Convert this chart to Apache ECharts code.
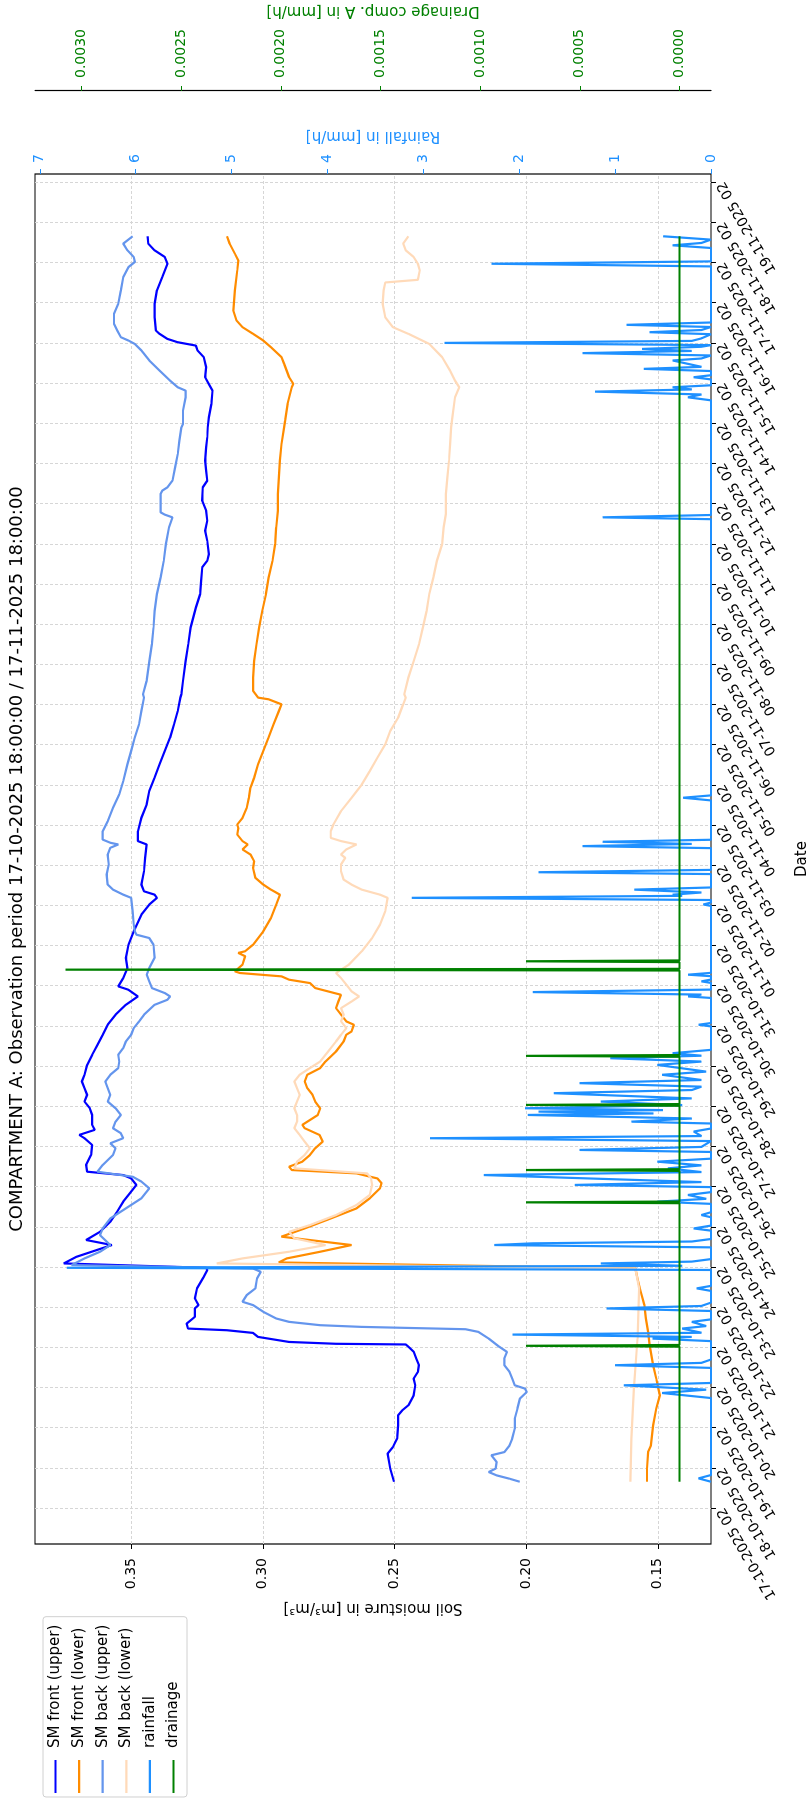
<!DOCTYPE html>
<html>
<head>
<meta charset="utf-8">
<title>Compartment A</title>
<script src="https://cdn.jsdelivr.net/npm/echarts@6.0.0/dist/echarts.min.js"></script>
<style>
  html, body { margin: 0; padding: 0; background: #fff; overflow: hidden; width: 811px; height: 1800px; }
  /* the figure is laid out landscape and turned a quarter turn counter-clockwise */
  #chart { position: absolute; left: 0; top: 0; width: 1800px; height: 811px;
           transform-origin: 0 0; transform: translateY(1800px) rotate(-90deg); }
</style>
</head>
<body>
<div id="chart"></div>
<script>
const TITLE = 'COMPARTMENT A: Observation period 17-10-2025 18:00:00 / 17-11-2025 18:00:00';

// Series times are hours since the start of the period (17-10-2025 18:00).
// The date axis counts hours since 17-10-2025 02:00, so it is 16 h ahead.
const AXIS_OFFSET_H = 16;

const dateTickLabels = [
  '17-10-2025 02', '18-10-2025 02', '19-10-2025 02', '20-10-2025 02', '21-10-2025 02',
  '22-10-2025 02', '23-10-2025 02', '24-10-2025 02', '25-10-2025 02', '26-10-2025 02',
  '27-10-2025 02', '28-10-2025 02', '29-10-2025 02', '30-10-2025 02', '31-10-2025 02',
  '01-11-2025 02', '02-11-2025 02', '03-11-2025 02', '04-11-2025 02', '05-11-2025 02',
  '06-11-2025 02', '07-11-2025 02', '08-11-2025 02', '09-11-2025 02', '10-11-2025 02',
  '11-11-2025 02', '12-11-2025 02', '13-11-2025 02', '14-11-2025 02', '15-11-2025 02',
  '16-11-2025 02', '17-11-2025 02', '18-11-2025 02', '19-11-2025 02'
];
const soilTicks = [0.15, 0.20, 0.25, 0.30, 0.35];
const rainTicks = [0, 1, 2, 3, 4, 5, 6, 7];
const drainTicks = [0, 0.0005, 0.0010, 0.0015, 0.0020, 0.0025, 0.0030];

// soil moisture [m3/m3]
const smFrontUpper = [[0,0.2502],[7.8,0.2516],[16.8,0.2526],[20.7,0.2506],[25.7,0.2490],[33.7,0.2486],[39.7,0.2486],[42.7,0.2470],[45.7,0.2447],[51.6,0.2427],[57.6,0.2421],[61.6,0.2427],[65.6,0.2411],[69.6,0.2407],[73.6,0.2417],[77.6,0.2427],[80.6,0.2447],[82.0,0.2457],[82.4,0.2722],[83.5,0.2900],[86.5,0.3018],[88.9,0.3037],[90.5,0.3136],[91.5,0.3284],[94.5,0.3289],[98.5,0.3258],[103.5,0.3258],[105.5,0.3244],[109.5,0.3258],[115.5,0.3250],[122.4,0.3224],[126.4,0.3211],[127.8,0.3215],[130.4,0.3756],[134.4,0.3707],[141.4,0.3573],[144.4,0.3671],[149.3,0.3618],[155.3,0.3579],[161.3,0.3553],[167.3,0.3530],[173.3,0.3500],[177.3,0.3480],[181.2,0.3500],[183.2,0.3530],[185.2,0.3667],[189.2,0.3671],[195.2,0.3652],[201.2,0.3648],[205.2,0.3677],[207.2,0.3697],[210.2,0.3638],[213.2,0.3648],[219.1,0.3648],[223.1,0.3657],[227.1,0.3677],[231.1,0.3667],[235.1,0.3677],[239.1,0.3687],[243.1,0.3677],[249.0,0.3667],[255.0,0.3648],[261.0,0.3628],[267.0,0.3608],[273.0,0.3589],[279.0,0.3559],[284.9,0.3520],[289.9,0.3474],[293.9,0.3510],[295.9,0.3549],[300.9,0.3530],[306.9,0.3514],[312.9,0.3520],[320.8,0.3510],[328.8,0.3490],[338.8,0.3461],[344.8,0.3431],[348.8,0.3402],[350.7,0.3411],[352.7,0.3451],[356.7,0.3461],[364.7,0.3451],[372.7,0.3447],[380.7,0.3441],[382.7,0.3474],[388.6,0.3474],[396.6,0.3461],[404.6,0.3441],[412.6,0.3431],[420.5,0.3411],[428.5,0.3392],[436.5,0.3372],[444.5,0.3352],[452.4,0.3337],[460.4,0.3323],[468.4,0.3313],[470.4,0.3309],[478.4,0.3303],[490.3,0.3293],[500.3,0.3283],[510.3,0.3274],[522.2,0.3254],[530.2,0.3238],[538.2,0.3234],[546.2,0.3230],[550.1,0.3211],[554.1,0.3205],[562.1,0.3211],[568.1,0.3219],[574.1,0.3211],[580.0,0.3215],[586.0,0.3230],[594.0,0.3228],[598.0,0.3211],[604.0,0.3215],[610.0,0.3219],[617.9,0.3215],[623.9,0.3211],[629.9,0.3209],[635.9,0.3205],[643.8,0.3195],[651.8,0.3191],[655.8,0.3205],[659.8,0.3219],[665.8,0.3215],[671.8,0.3224],[675.8,0.3248],[678.7,0.3254],[680.7,0.3323],[682.7,0.3362],[685.7,0.3392],[687.7,0.3406],[695.7,0.3411],[703.7,0.3411],[711.7,0.3402],[719.6,0.3382],[727.6,0.3362],[731.6,0.3372],[735.6,0.3411],[739.6,0.3435],[744,0.3437]];

const smFrontLower = [[0,0.1541],[7.8,0.1541],[17.7,0.1537],[21.7,0.1526],[33.7,0.1518],[43.7,0.1506],[51.6,0.1492],[55.6,0.1498],[61.6,0.1506],[69.6,0.1518],[81.6,0.1531],[89.5,0.1537],[97.5,0.1545],[105.5,0.1551],[113.5,0.1565],[121.4,0.1577],[127.4,0.1585],[131.0,0.2939],[133.4,0.2909],[137.4,0.2782],[141.4,0.2663],[146.4,0.2929],[151.3,0.2841],[157.3,0.2742],[163.3,0.2644],[169.3,0.2594],[175.3,0.2555],[178.3,0.2549],[181.2,0.2565],[184.2,0.2644],[186.2,0.2890],[188.2,0.2900],[191.2,0.2850],[195.2,0.2821],[199.2,0.2801],[203.2,0.2772],[207.2,0.2785],[211.2,0.2841],[213.2,0.2850],[219.1,0.2791],[223.1,0.2782],[227.1,0.2801],[231.1,0.2811],[235.1,0.2831],[239.1,0.2841],[243.1,0.2831],[247.1,0.2782],[251.0,0.2762],[257.0,0.2722],[263.0,0.2693],[267.0,0.2683],[269.0,0.2663],[273.0,0.2654],[275.0,0.2683],[279.0,0.2703],[282.9,0.2722],[286.9,0.2713],[290.9,0.2703],[294.9,0.2801],[297.9,0.2821],[299.9,0.2900],[301.9,0.2929],[303.9,0.3087],[304.9,0.3106],[308.9,0.3077],[313.9,0.3067],[315.9,0.3093],[316.9,0.3067],[320.8,0.3037],[328.8,0.2998],[336.8,0.2969],[344.8,0.2949],[350.7,0.2935],[353.7,0.2969],[356.7,0.2998],[360.7,0.3028],[366.7,0.3037],[370.7,0.3033],[374.7,0.3047],[377.7,0.3077],[380.7,0.3057],[382.7,0.3077],[386.6,0.3097],[390.6,0.3093],[392.6,0.3097],[396.6,0.3077],[402.6,0.3061],[408.6,0.3053],[414.6,0.3047],[420.5,0.3033],[428.5,0.3018],[436.5,0.2998],[444.5,0.2978],[452.4,0.2959],[460.4,0.2939],[464.4,0.2929],[467.4,0.2978],[468.4,0.3018],[472.4,0.3037],[480.4,0.3037],[490.3,0.3033],[500.3,0.3024],[510.3,0.3014],[520.2,0.3002],[530.2,0.2988],[540.2,0.2978],[550.1,0.2963],[560.1,0.2953],[570.1,0.2949],[580.0,0.2943],[590.0,0.2943],[600.0,0.2939],[610.0,0.2935],[619.9,0.2929],[629.9,0.2919],[633.9,0.2915],[643.8,0.2906],[653.8,0.2890],[655.8,0.2884],[659.8,0.2900],[667.8,0.2919],[671.8,0.2929],[677.7,0.2969],[681.7,0.2998],[685.7,0.3037],[689.7,0.3077],[693.7,0.3100],[699.7,0.3112],[711.7,0.3106],[723.6,0.3097],[729.6,0.3093],[733.6,0.3106],[739.6,0.3126],[744,0.3136]];

const smBackUpper = [[0,0.2024],[1.8,0.2063],[3.8,0.2112],[5.8,0.2142],[7.8,0.2116],[11.8,0.2112],[15.8,0.2132],[17.7,0.2083],[21.7,0.2063],[25.7,0.2053],[31.7,0.2043],[37.7,0.2043],[43.7,0.2033],[49.6,0.2024],[53.6,0.1998],[55.6,0.2004],[57.6,0.2043],[61.6,0.2053],[65.6,0.2063],[69.6,0.2083],[73.6,0.2083],[77.6,0.2073],[80.6,0.2102],[85.5,0.2142],[89.5,0.2181],[91.1,0.2230],[92.5,0.2624],[93.5,0.2781],[95.5,0.2900],[97.5,0.2949],[101.5,0.2998],[105.5,0.3037],[107.5,0.3077],[111.5,0.3061],[115.5,0.3028],[121.4,0.3022],[125.4,0.3008],[127.4,0.3037],[129.4,0.3726],[133.4,0.3677],[137.4,0.3618],[141.4,0.3579],[147.3,0.3618],[151.3,0.3608],[157.3,0.3579],[163.3,0.3520],[169.3,0.3461],[175.3,0.3431],[179.3,0.3461],[182.2,0.3494],[185.2,0.3628],[189.2,0.3608],[195.2,0.3569],[199.2,0.3559],[202.2,0.3579],[205.2,0.3530],[208.2,0.3539],[211.2,0.3569],[215.1,0.3559],[219.1,0.3539],[223.1,0.3559],[227.1,0.3589],[231.1,0.3579],[235.1,0.3589],[239.1,0.3598],[243.1,0.3579],[247.1,0.3549],[251.0,0.3545],[255.0,0.3549],[259.0,0.3530],[263.0,0.3520],[267.0,0.3500],[271.0,0.3490],[275.0,0.3470],[279.0,0.3451],[284.9,0.3411],[287.9,0.3362],[289.9,0.3352],[291.9,0.3372],[294.9,0.3421],[298.9,0.3431],[302.9,0.3441],[306.9,0.3431],[312.9,0.3411],[320.8,0.3415],[324.8,0.3431],[326.8,0.3480],[328.8,0.3486],[332.8,0.3490],[340.8,0.3494],[348.8,0.3500],[350.7,0.3530],[353.7,0.3569],[356.7,0.3589],[362.7,0.3593],[368.7,0.3585],[374.7,0.3589],[378.7,0.3579],[380.7,0.3549],[381.7,0.3579],[383.6,0.3608],[388.6,0.3608],[394.6,0.3589],[402.6,0.3569],[410.6,0.3545],[418.5,0.3530],[428.5,0.3514],[436.5,0.3500],[444.5,0.3486],[452.4,0.3470],[460.4,0.3461],[468.4,0.3451],[470.4,0.3455],[478.4,0.3441],[490.3,0.3431],[500.3,0.3421],[510.3,0.3415],[520.2,0.3411],[530.2,0.3402],[540.2,0.3388],[550.1,0.3376],[560.1,0.3368],[570.1,0.3356],[576.1,0.3343],[577.7,0.3372],[579.1,0.3388],[590.0,0.3388],[592.0,0.3382],[594.0,0.3362],[598.0,0.3343],[606.0,0.3333],[613.9,0.3323],[621.9,0.3317],[629.9,0.3309],[631.9,0.3303],[639.9,0.3303],[647.8,0.3293],[651.8,0.3293],[653.8,0.3323],[657.8,0.3352],[663.8,0.3392],[669.8,0.3431],[675.8,0.3461],[679.7,0.3486],[681.7,0.3510],[683.7,0.3539],[687.7,0.3553],[691.7,0.3565],[697.7,0.3565],[703.7,0.3549],[711.7,0.3539],[719.6,0.3530],[725.6,0.3510],[728.6,0.3486],[731.6,0.3490],[735.6,0.3514],[739.6,0.3530],[744,0.3494]];

const smBackLower = [[0,0.1604],[25.7,0.1600],[55.6,0.1591],[85.5,0.1577],[115.5,0.1571],[127.4,0.1585],[130.4,0.3175],[133.4,0.3077],[137.4,0.2900],[141.4,0.2762],[145.4,0.2880],[149.3,0.2900],[153.3,0.2821],[159.3,0.2722],[165.3,0.2644],[171.3,0.2594],[177.3,0.2585],[181.2,0.2589],[184.2,0.2604],[187.2,0.2880],[191.2,0.2870],[195.2,0.2841],[199.2,0.2821],[203.2,0.2841],[207.2,0.2860],[211.2,0.2880],[215.1,0.2870],[219.1,0.2870],[223.1,0.2880],[227.1,0.2870],[231.1,0.2860],[235.1,0.2870],[239.1,0.2880],[243.1,0.2860],[247.1,0.2821],[251.0,0.2782],[257.0,0.2752],[263.0,0.2722],[267.0,0.2703],[271.0,0.2683],[275.0,0.2703],[279.0,0.2693],[282.9,0.2703],[286.9,0.2663],[289.9,0.2634],[292.9,0.2663],[296.9,0.2683],[300.9,0.2703],[303.9,0.2722],[308.9,0.2673],[316.9,0.2624],[324.8,0.2585],[332.8,0.2555],[340.8,0.2535],[348.8,0.2526],[350.7,0.2555],[353.7,0.2624],[356.7,0.2663],[359.7,0.2693],[364.7,0.2703],[368.7,0.2703],[372.7,0.2687],[374.7,0.2703],[377.7,0.2683],[380.7,0.2644],[382.7,0.2703],[384.6,0.2742],[388.6,0.2742],[392.6,0.2732],[400.6,0.2703],[408.6,0.2663],[416.5,0.2624],[424.5,0.2594],[432.5,0.2565],[440.5,0.2535],[448.5,0.2516],[456.4,0.2486],[464.4,0.2467],[468.4,0.2457],[470.4,0.2463],[480.4,0.2447],[490.3,0.2427],[500.3,0.2407],[510.3,0.2392],[520.2,0.2378],[530.2,0.2368],[540.2,0.2352],[550.1,0.2339],[560.1,0.2319],[570.1,0.2313],[578.1,0.2305],[590.0,0.2305],[600.0,0.2299],[610.0,0.2293],[619.9,0.2289],[629.9,0.2285],[635.9,0.2280],[647.8,0.2270],[653.8,0.2254],[657.8,0.2270],[663.8,0.2289],[671.8,0.2319],[679.7,0.2368],[685.7,0.2447],[689.7,0.2506],[695.7,0.2535],[703.7,0.2545],[711.7,0.2541],[716.4,0.2535],[718.0,0.2411],[723.6,0.2404],[727.6,0.2411],[731.6,0.2427],[735.6,0.2457],[739.6,0.2467],[744,0.2447]];

// rainfall [mm/h]
const rainfall = [[0,0],[2,0.13],[4,0],[50,0],[53,0.51],[55,0.05],[57.6,0.91],[59,0],[68,0],[69.6,1.0],[71,0.1],[73,0],[84,0],[85.5,0.61],[86.5,0.2],[87.9,2.07],[89,0.1],[91.5,0.3],[93,0.05],[95.5,0.2],[97,0],[102,0],[103.5,1.09],[105,0.1],[107,0],[114,0],[115.5,0.15],[117,0],[126.5,0],[127.8,6.72],[129,0.3],[130.4,1.15],[131.5,0.2],[133,0],[140,0],[141.4,2.26],[142.4,1.86],[143.5,0.2],[145,0],[150,0],[151.3,0.18],[153,0],[158,0],[159.3,0.1],[161,0],[166,0],[167.3,0.56],[169,0.05],[171.3,0.24],[173,0],[176,0],[177.3,1.42],[179,0.1],[183.2,2.37],[185,0.1],[187.2,0.45],[189,0.1],[191.2,0.56],[193,0],[197,0],[198.2,1.37],[200,0.1],[203.5,0],[205.2,2.93],[206.5,0.1],[209.2,0.18],[211,0],[214,0],[215.1,0.83],[217,0.2],[219.1,1.91],[220,0.6],[221.1,1.8],[222,0.5],[223.1,1.94],[225,0.3],[227.1,1.15],[229,0.2],[232.1,1.64],[234,0.2],[236,0.1],[238.1,1.37],[240,0.1],[243.1,0.51],[245,0.05],[249,0.56],[251,0.1],[253,1.05],[254.5,0.1],[256,0.4],[258,0],[272,0],[273,0.13],[274,0],[289,0],[289.9,0.24],[291,0.1],[292.5,1.86],[294,0],[298,0],[298.9,0.1],[300,0],[302,0],[302.9,0.24],[304,0],[344,0],[344.8,0.08],[346,0],[347.5,0],[348.8,3.12],[350,0.3],[350.7,0.4],[352,0.1],[353.7,0.8],[355,0],[363,0],[364.1,1.8],[365.5,0],[378.5,0],[379.7,1.34],[381,0.2],[382.3,1.13],[383.5,0],[407,0],[408.6,0.29],[410,0],[575,0],[576.1,1.13],[577.5,0],[646,0],[647.8,0.24],[649.5,0.1],[651.2,1.21],[652.5,0.2],[653.8,0.4],[655,0],[658.5,0],[659.8,0.18],[661,0],[663.5,0],[664.8,0.7],[666,0.1],[669.8,0.4],[671,0.1],[672.8,0],[674.2,1.34],[675.5,0.2],[676.7,0.72],[678,0.1],[679,0],[680.3,2.78],[681.5,0.2],[683,0.1],[685.5,0],[686.7,0.64],[688,0.1],[689.8,0],[691.1,0.88],[692.5,0],[726,0],[727.6,2.29],[729,0],[737,0],[738.6,0.4],[740,0.1],[742,0],[744,0.5]];

// drainage of compartment A [mm/h]
const drainage = [[0,0],[80.7,0],[81.2,0.00077],[81.7,0],[166.4,0],[166.9,0.00077],[167.4,0],[185.7,0],[186.2,0.00077],[186.7,0],[224.6,0],[225.1,0.00077],[225.6,0],[253.9,0],[254.4,0.00077],[254.9,0],[305.4,0],[305.9,0.00308],[306.4,0],[310.4,0],[310.9,0.00077],[311.4,0],[744,0]];

const COLORS = {
  frontUpper: '#0000FF',
  frontLower: '#FF8C00',
  backUpper: '#6495ED',
  backLower: '#FFDAB9',
  rain: '#1E90FF',
  drain: '#008000'
};
const FONT = 'DejaVu Sans';
const GRID_LINE = { show: true, lineStyle: { color: '#d6d6d6', type: [3, 2], width: 1 } };

function toAxisHours(points) {
  return points.map(p => [p[0] + AXIS_OFFSET_H, p[1]]);
}

function lineSeries(name, points, color, yAxisIndex) {
  return {
    name: name,
    type: 'line',
    yAxisIndex: yAxisIndex,
    data: toAxisHours(points),
    symbol: 'none',
    showSymbol: false,
    smooth: false,
    clip: true,
    silent: true,
    animation: false,
    lineStyle: { color: color, width: 2.2 },
    itemStyle: { color: color },
    emphasis: { disabled: true }
  };
}

const dateTickValues = dateTickLabels.map((_, i) => i * 24);
const legendNames = ['SM front (upper)', 'SM front (lower)', 'SM back (upper)', 'SM back (lower)', 'rainfall', 'drainage'];

const chart = echarts.init(document.getElementById('chart'), null, { renderer: 'canvas' });

chart.setOption({
  animation: false,
  backgroundColor: '#ffffff',
  textStyle: { fontFamily: FONT },
  title: {
    text: TITLE,
    left: 941,
    top: 8,
    textAlign: 'center',
    padding: 0,
    textStyle: { fontFamily: FONT, fontSize: 18, fontWeight: 'normal', color: '#000' }
  },
  legend: {
    orient: 'vertical',
    left: 3,
    top: 43,
    icon: 'rect',
    itemWidth: 33,
    itemHeight: 2.2,
    itemGap: 6.6,
    padding: [4, 8, 5, 4],
    backgroundColor: '#ffffff',
    borderColor: '#d0d0d0',
    borderWidth: 1,
    borderRadius: 3,
    selectedMode: false,
    textStyle: { fontFamily: FONT, fontSize: 15, lineHeight: 17, color: '#000', padding: [0, 0, 0, 7] },
    data: legendNames
  },
  grid: {
    left: 256, right: 174, top: 35, bottom: 100,
    show: true, borderColor: '#000', borderWidth: 1.2, backgroundColor: 'transparent',
    containLabel: false, outerBoundsMode: 'none'
  },
  xAxis: {
    type: 'value',
    min: -21.2, max: 797.2, interval: 24,
    name: 'Date', nameLocation: 'middle', nameGap: 84,
    nameTextStyle: { fontFamily: FONT, fontSize: 15, color: '#000' },
    axisLine: { show: false, onZero: false },
    axisTick: { show: true, customValues: dateTickValues, length: 5, lineStyle: { color: '#000', width: 1 } },
    axisLabel: {
      customValues: dateTickValues, rotate: 30, margin: 10, fontSize: 14, color: '#000',
      hideOverlap: false,
      formatter: v => dateTickLabels[Math.round(v / 24)]
    },
    splitLine: GRID_LINE,
    minorTick: { show: false }
  },
  yAxis: [
    {
      type: 'value', position: 'left',
      min: 0.1298, max: 0.3865, interval: 0.05,
      name: 'Soil moisture in [m³/m³]', nameLocation: 'middle', nameRotate: 90, nameGap: 54,
      nameTextStyle: { fontFamily: FONT, fontSize: 15, color: '#000' },
      axisLine: { show: false, onZero: false },
      axisTick: { show: true, customValues: soilTicks, length: 5, lineStyle: { color: '#000', width: 1 } },
      axisLabel: { customValues: soilTicks, margin: 14, fontSize: 14, color: '#000', formatter: v => v.toFixed(2) },
      splitLine: GRID_LINE
    },
    {
      type: 'value', position: 'right',
      min: 0, max: 7.05, interval: 1,
      name: 'Rainfall in [mm/h]', nameLocation: 'middle', nameRotate: 90, nameGap: 22,
      nameTextStyle: { fontFamily: FONT, fontSize: 15, color: COLORS.rain },
      axisLine: { show: false, onZero: false },
      axisTick: { show: true, customValues: rainTicks, length: 5, lineStyle: { color: COLORS.rain, width: 1 } },
      axisLabel: { customValues: rainTicks, margin: 11, fontSize: 14, color: COLORS.rain, formatter: v => String(v) },
      splitLine: { show: false }
    },
    {
      type: 'value', position: 'right', offset: 83,
      min: -0.000158, max: 0.003233, interval: 0.0005,
      name: 'Drainage comp. A in [mm/h]', nameLocation: 'middle', nameRotate: 90, nameGap: 69,
      nameTextStyle: { fontFamily: FONT, fontSize: 15, color: COLORS.drain },
      axisLine: { show: true, onZero: false, lineStyle: { color: '#000', width: 1.2 } },
      axisTick: { show: true, customValues: drainTicks, length: 5, lineStyle: { color: COLORS.drain, width: 1 } },
      axisLabel: { customValues: drainTicks, margin: 13, fontSize: 14, color: COLORS.drain, formatter: v => v.toFixed(4) },
      splitLine: { show: false }
    }
  ],
  series: [
    lineSeries('SM front (upper)', smFrontUpper, COLORS.frontUpper, 0),
    lineSeries('SM front (lower)', smFrontLower, COLORS.frontLower, 0),
    lineSeries('SM back (upper)', smBackUpper, COLORS.backUpper, 0),
    lineSeries('SM back (lower)', smBackLower, COLORS.backLower, 0),
    lineSeries('rainfall', rainfall, COLORS.rain, 1),
    lineSeries('drainage', drainage, COLORS.drain, 2)
  ]
});
</script>
</body>
</html>
